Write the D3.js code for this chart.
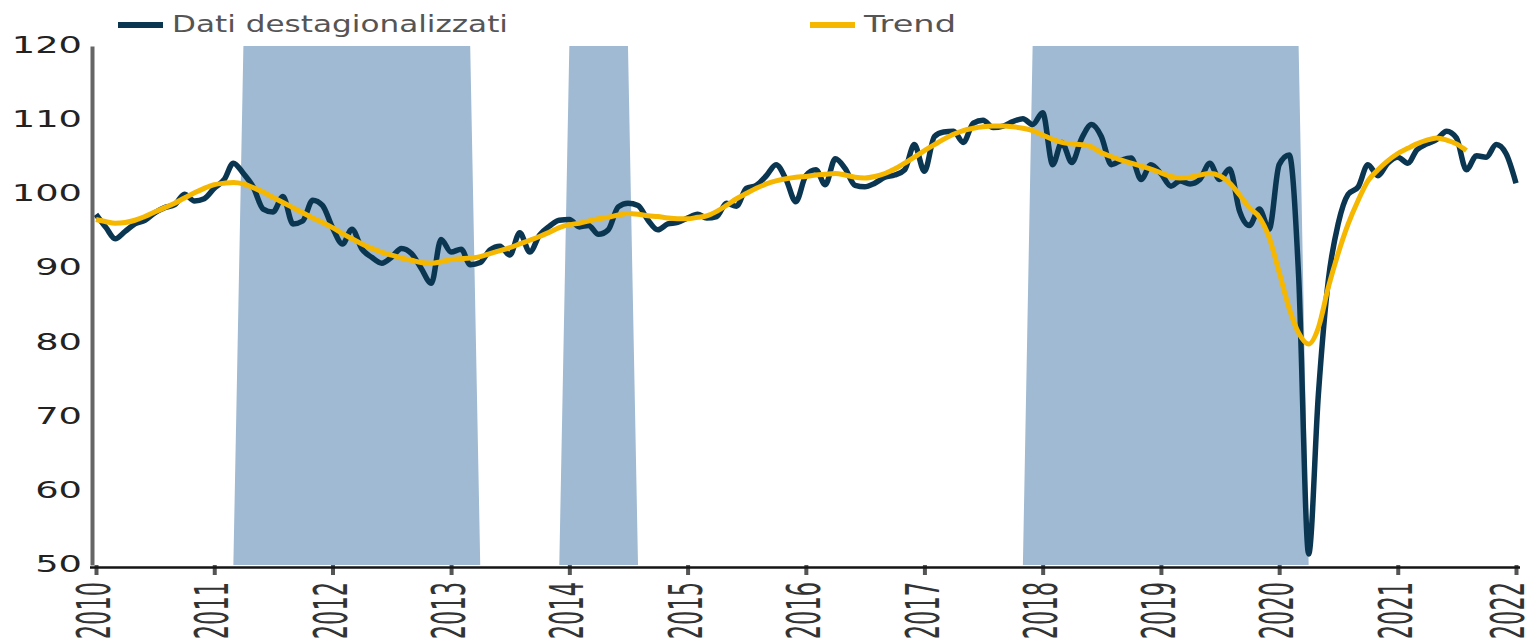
<!DOCTYPE html>
<html>
<head>
<meta charset="utf-8">
<script src="https://cdn.jsdelivr.net/npm/d3@7"></script>
<style>
body { margin: 0; background: #fff; }
svg { display: block; font-family: "DejaVu Sans", Verdana, sans-serif; }
</style>
</head>
<body>
<svg id="svg"></svg>
<script>
// monthly values, Jan 2010 onwards
const seasonal = [
    97.3, 95.5, 94.0, 95.0, 96.0, 96.5, 97.5, 98.2, 98.6, 100.0, 99.1, 99.4,
    100.8, 102.0, 104.2, 102.8, 101.0, 98.0, 97.6, 99.7, 96.0, 96.4, 99.2, 98.5,
    95.5, 93.3, 95.3, 92.6, 91.5, 90.7, 91.5, 92.7, 92.0, 90.0, 88.0, 93.9,
    92.2, 92.6, 90.5, 90.8, 92.5, 93.0, 91.8, 94.8, 92.2, 94.5, 95.7, 96.5,
    96.6, 95.6, 95.8, 94.6, 95.2, 98.3, 98.8, 98.5, 96.5, 95.2, 96.0, 96.2,
    96.8, 97.3, 96.8, 97.0, 98.8, 98.4, 100.8, 101.2, 102.5, 104.0, 102.0, 99.0,
    102.5, 103.3, 101.3, 104.8, 103.5, 101.2, 101.0, 101.5, 102.3, 102.6, 103.3, 106.7,
    103.1, 107.8, 108.4, 108.5, 107.0, 109.6, 110.0, 109.0, 109.2, 109.8, 110.2, 109.4,
    111.0, 104.0, 107.0, 104.3, 107.5, 109.4, 107.8, 104.0, 104.6, 104.9, 102.0, 104.0,
    102.8, 101.1, 101.8, 101.4, 102.0, 104.2, 102.0, 103.4, 97.7, 95.8, 98.0, 95.3,
    104.0, 105.3, 89.0, 51.5, 73.0, 88.5, 96.0, 100.0, 101.0, 104.0, 102.5, 104.2,
    105.0, 104.2, 106.0, 106.8, 107.4, 108.5, 107.6, 103.3, 105.2, 105.0, 106.7, 105.5,
    101.5
];

const trend = [
    96.6, 96.3, 96.1, 96.2, 96.5, 97.0, 97.6, 98.2, 98.8, 99.5, 100.2, 100.8,
    101.3, 101.5, 101.6, 101.4, 100.9, 100.3, 99.6, 98.9, 98.2, 97.5, 96.8, 96.2,
    95.5, 94.7, 94.0, 93.3, 92.7, 92.2, 91.8, 91.4, 91.1, 90.8, 90.7, 90.9,
    91.2, 91.3, 91.4, 91.6, 92.0, 92.4, 92.8, 93.3, 93.8, 94.3, 94.9, 95.5,
    95.9, 96.1, 96.4, 96.7, 96.9, 97.2, 97.4, 97.3, 97.1, 97.0, 96.8, 96.7,
    96.7, 96.9, 97.1, 97.7, 98.5, 99.4, 100.1, 100.8, 101.4, 101.8, 102.1, 102.3,
    102.4, 102.6, 102.7, 102.8, 102.6, 102.3, 102.2, 102.4, 102.8, 103.4, 104.2, 105.0,
    105.9, 106.7, 107.4, 108.1, 108.6, 108.9, 109.1, 109.2, 109.2, 109.1, 108.9, 108.6,
    108.0, 107.4, 107.0, 106.8, 106.7, 106.4, 105.6, 105.1, 104.6, 104.2, 103.8, 103.4,
    102.9, 102.4, 102.2, 102.3, 102.6, 102.8, 102.5, 101.5, 99.9, 98.2, 96.9, 94.2,
    89.5, 84.6, 81.3, 79.8, 82.0, 87.5, 92.0, 96.0, 99.2, 101.8, 103.3, 104.5,
    105.5, 106.2, 106.8, 107.3, 107.6, 107.3, 106.8, 105.9
];

// shaded periods (first and last month inside)
const shadedPeriods = [["2011-04", "2013-03"], ["2014-01", "2014-07"], ["2017-12", "2020-03"]];

const yTicks = [50, 60, 70, 80, 90, 100, 110, 120];
const xTicks = d3.range(2010, 2023);
const seriesNames = ["Dati destagionalizzati", "Trend"];
const seriesColors = ["#0b3651", "#f6b700"];

const width = 1536, height = 644;
const parseMonth = d3.timeParse("%Y-%m");
const monthDate = i => new Date(2010, i, 1);

const svg = d3.select("#svg")
    .attr("width", width)
    .attr("height", height);

const x = d3.scaleTime()
    .domain([new Date(2010, 0, 1), new Date(2022, 0, 1)])
    .range([96, 1516]);

const y = d3.scaleLinear()
    .domain([50, 120])
    .range([565, 46]);

// shading, one flag per month so the edges slope over a month like the original
const periods = shadedPeriods.map(p => [parseMonth(p[0]), parseMonth(p[1])]);
const shadeData = seasonal.map((v, i) => {
    const d = monthDate(i);
    return [d, periods.some(p => d >= p[0] && d <= p[1]) ? 120 : 50];
});

svg.append("path")
    .datum(shadeData)
    .attr("fill", "#9fbad2")
    .attr("d", d3.area()
        .x(d => x(d[0]))
        .y0(y(50))
        .y1(d => y(d[1])));

const line = d3.line()
    .x((d, i) => x(monthDate(i)))
    .y(d => y(d))
    .curve(d3.curveMonotoneX);

svg.append("path")
    .datum(seasonal)
    .attr("fill", "none")
    .attr("stroke", seriesColors[0])
    .attr("stroke-width", 5.5)
    .attr("stroke-linejoin", "round")
    .attr("d", line);

svg.append("path")
    .datum(trend)
    .attr("fill", "none")
    .attr("stroke", seriesColors[1])
    .attr("stroke-width", 5)
    .attr("stroke-linejoin", "round")
    .attr("d", line);

// y axis
const yAxis = svg.append("g")
    .attr("transform", "translate(92,0)")
    .call(d3.axisLeft(y).tickValues(yTicks).tickSize(0).tickPadding(10));
yAxis.select(".domain")
    .attr("stroke", "#666")
    .attr("stroke-width", 4);
yAxis.selectAll("text")
    .attr("font-family", "DejaVu Sans")
    .attr("font-size", 23)
    .attr("fill", "#222")
    .attr("dy", "0.28em")
    .attr("textLength", d => String(d).length * 23.4)
    .attr("lengthAdjust", "spacingAndGlyphs");

// x axis
const xAxis = svg.append("g")
    .attr("transform", "translate(0," + y(50) + ")")
    .call(d3.axisBottom(x)
        .tickValues(xTicks.map(yr => new Date(yr, 0, 1)))
        .tickFormat(d3.timeFormat("%Y"))
        .tickSize(10)
        .tickSizeOuter(0));
xAxis.select(".domain").remove();
xAxis.append("line")
    .attr("x1", 90).attr("x2", 1520)
    .attr("y1", 2.5).attr("y2", 2.5)
    .attr("stroke", "#151515")
    .attr("stroke-width", 2.5);
xAxis.selectAll(".tick line")
    .attr("stroke", "#555")
    .attr("stroke-width", 4);
const lastYear = xTicks[xTicks.length - 1];
xAxis.selectAll(".tick text")
    .attr("font-family", "DejaVu Sans")
    .attr("font-size", 22.5)
    .attr("fill", "#333")
    .attr("text-anchor", "end")
    .attr("y", null)
    .attr("dy", "0.36em")
    // keep the last label inside the page
    .attr("transform", d => "translate(" + (d.getFullYear() === lastYear ? -9 : -3) + ",17) rotate(-90) scale(1,2.05)");

// legend
const legendPos = [{ x: 118, text: 336 }, { x: 810, text: 92 }];
const legend = svg.append("g")
    .selectAll("g")
    .data(seriesNames)
    .join("g")
    .attr("transform", (d, i) => "translate(" + legendPos[i].x + ",0)");

legend.append("line")
    .attr("x1", 0).attr("x2", 45)
    .attr("y1", 25).attr("y2", 25)
    .attr("stroke", (d, i) => seriesColors[i])
    .attr("stroke-width", 6);

legend.append("text")
    .attr("x", 54)
    .attr("y", 32)
    .attr("font-size", 23)
    .attr("fill", "#555")
    .attr("textLength", (d, i) => legendPos[i].text)
    .attr("lengthAdjust", "spacingAndGlyphs")
    .text(d => d);
</script>
</body>
</html>
